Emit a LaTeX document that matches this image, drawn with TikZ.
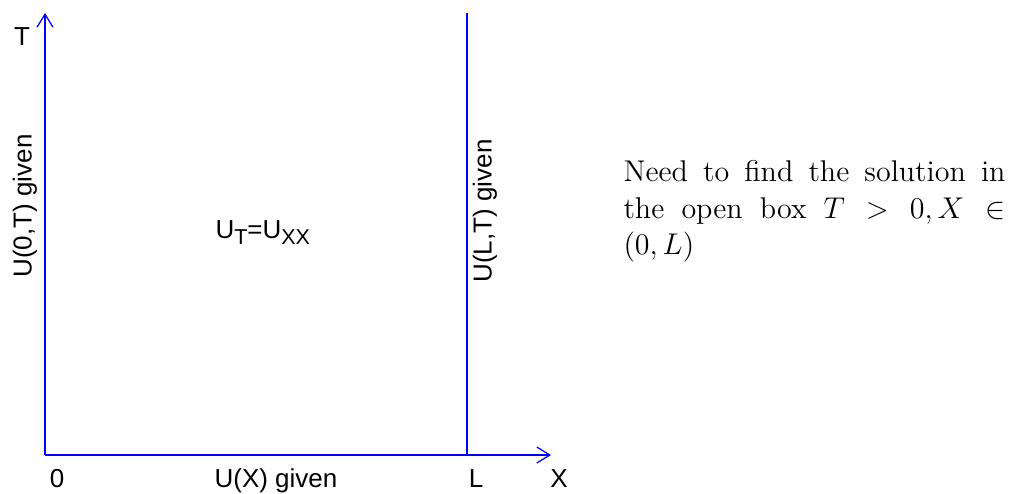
\documentclass[tikz,border=0pt]{standalone}
\usepackage{fontspec}
\setsansfont{Liberation Sans}
\usepackage{tikz}
\usetikzlibrary{arrows.meta,positioning}
\definecolor{boxblue}{RGB}{0,0,255}

\begin{document}
\begin{tikzpicture}[x=0.4pt, y=-0.4pt,
  axisline/.style={color=boxblue, line width=0.5pt},
  axislabel/.style={font=\sffamily\fontsize{10.4}{12}\selectfont, inner sep=0pt},
  sidelabel/.style={axislabel, rotate=90},
  notetext/.style={font=\fontsize{12}{14.6}\selectfont, text width=152.8pt, align=justify, inner sep=0pt},
  >={Straight Barb[length=5.2pt,width=6.4pt]}
]
  \useasboundingbox (0,0) rectangle (1012,493);
  % axes and the right edge of the box
  \coordinate (origin) at (45,455);
  \coordinate (ttip) at (45,13);
  \coordinate (xtip) at (551,455);
  \coordinate (lbot) at (467,455);
  \coordinate (ltop) at (467,13);
  \draw[axisline,->] (origin) -- (ttip);
  \draw[axisline,->] (origin) -- (xtip);
  \draw[axisline] (lbot) -- (ltop);
  % labels
  \node[axislabel, anchor=base] (tlabel) at (22,45) {T};
  \node[axislabel, anchor=base] (zero) at (57,487) {0};
  \node[axislabel, anchor=base] (bottom) at (276,487) {U(X) given};
  \node[axislabel, anchor=base] (llabel) at (476,487) {L};
  \node[axislabel, anchor=base] (xlabel) at (559,487) {X};
  \node[sidelabel] (left) at (25,206) {U(0,T) given};
  \node[sidelabel] (right) at (485,211) {U(L,T) given};
  \node[axislabel, anchor=base west] (pde) at (215,238)
    {U\raisebox{-0.5ex}{\fontsize{8.6}{9}\selectfont T}=U\raisebox{-0.5ex}{\fontsize{8.6}{9}\selectfont XX}};
  \node[notetext, anchor=north west] (note) at (623,160)
    {Need to find the solution in the open box $T>0, X\in(0,L)$};
\end{tikzpicture}
\end{document}
